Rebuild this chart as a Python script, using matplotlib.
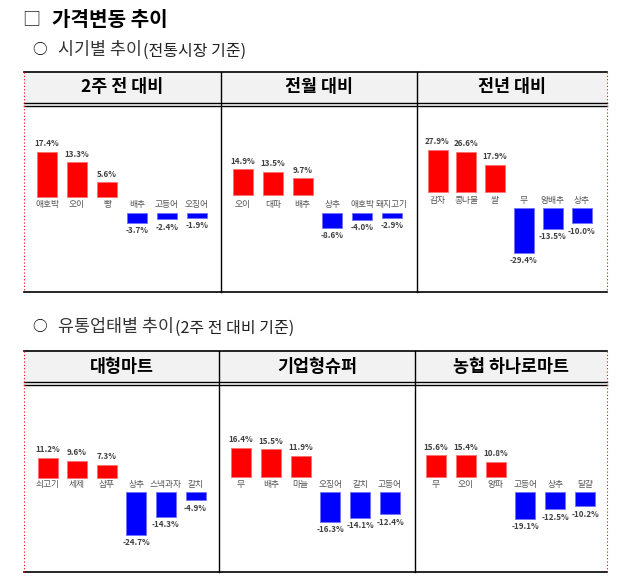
import matplotlib
matplotlib.use("Agg")
import matplotlib.pyplot as plt

plt.rcParams['font.family'] = ['Noto Sans CJK KR', 'DejaVu Sans']

W, H = 625, 582

# data (percent change)
titles_top = ['2주 전 대비', '전월 대비', '전년 대비']
titles_bottom = ['대형마트', '기업형슈퍼', '농협 하나로마트']

cats_2w = ['애호박', '오이', '빵', '배추', '고등어', '오징어']
vals_2w = [17.4, 13.3, 5.6, -3.7, -2.4, -1.9]
cats_month = ['오이', '대파', '배추', '상추', '애호박', '돼지고기']
vals_month = [14.9, 13.5, 9.7, -8.6, -4.0, -2.9]
cats_year = ['감자', '콩나물', '쌀', '무', '양배추', '상추']
vals_year = [27.9, 26.6, 17.9, -29.4, -13.5, -10.0]
cats_mart = ['쇠고기', '세제', '샴푸', '상추', '스낵과자', '갈치']
vals_mart = [11.2, 9.6, 7.3, -24.7, -14.3, -4.9]
cats_super = ['무', '배추', '마늘', '오징어', '갈치', '고등어']
vals_super = [16.4, 15.5, 11.9, -16.3, -14.1, -12.4]
cats_nh = ['무', '오이', '양파', '고등어', '상추', '달걀']
vals_nh = [15.6, 15.4, 10.8, -19.1, -12.5, -10.2]

# panel layout in pixels: x0, x1, y0, y1, mid line, half gap, px per %, first offset, spacing
panels = [
    (cats_2w, vals_2w, (24, 221, 106, 292, 205, 8, 2.6, 23, 30)),
    (cats_month, vals_month, (221, 417, 106, 292, 204, 9, 1.73, 22, 29.8)),
    (cats_year, vals_year, (417, 607, 106, 292, 200, 8, 1.52, 20.5, 28.8)),
    (cats_mart, vals_mart, (24, 219, 386, 572, 484.5, 7, 1.75, 23.5, 29.6)),
    (cats_super, vals_super, (219, 415, 386, 572, 484.7, 7.3, 1.81, 22, 29.8)),
    (cats_nh, vals_nh, (415, 607, 386, 572, 484.5, 7.2, 1.42, 21, 29.8)),
]

fig = plt.figure(figsize=(W / 100, H / 100), dpi=100)
bg = fig.add_axes([0, 0, 1, 1])
bg.set_xlim(0, W)
bg.set_ylim(H, 0)
bg.axis('off')
renderer = fig.canvas.get_renderer()


def subtitle(y, main, extra):
    bg.text(32, y, '○', fontsize=10.5, va='center', ha='left')
    t = bg.text(58, y, main, fontsize=12.5, va='center', ha='left', color='#333333')
    # put the bracket part right after the main text
    ext = t.get_window_extent(renderer)
    x_end = ext.x1  # pixels, same as data units here
    bg.text(x_end + 1, y + 1, extra, fontsize=11.5, va='center', ha='left', color='#222222')


# headings
bg.text(22, 19, '□', fontsize=13, va='center', ha='left', color='#222222')
bg.text(52, 19, '가격변동 추이', fontsize=14.5, fontweight='bold', va='center', ha='left')
subtitle(50, '시기별 추이', '(전통시장 기준)')
subtitle(327, '유통업태별 추이', '(2주 전 대비 기준)')


def draw_table(top, head_bot, bottom, xs, names):
    bg.fill_between([xs[0], xs[-1]], top, head_bot, color='#f2f2f2', lw=0)
    bg.plot([xs[0], xs[-1]], [top, top], color='black', lw=1.2)
    bg.plot([xs[0], xs[-1]], [head_bot, head_bot], color='black', lw=1.0)
    bg.plot([xs[0], xs[-1]], [head_bot + 3, head_bot + 3], color='black', lw=1.0)
    bg.plot([xs[0], xs[-1]], [bottom, bottom], color='black', lw=1.2)
    for x in xs[1:-1]:
        bg.plot([x, x], [top, bottom], color='black', lw=1.0)
    for x in (xs[0], xs[-1]):
        bg.plot([x, x], [top, bottom], color='red', lw=0.8, ls=(0, (1, 2)))
    for i, name in enumerate(names):
        bg.text((xs[i] + xs[i + 1]) / 2, (top + head_bot) / 2, name, fontsize=12.5,
                fontweight='bold', ha='center', va='center')


draw_table(72, 103, 292, [24, 221, 417, 607], titles_top)
draw_table(351, 382, 572, [24, 219, 415, 607], titles_bottom)

for cats, vals, (x0, x1, y0, y1, mid, hg, s, off, sp) in panels:
    ax = fig.add_axes([x0 / W, 1 - y1 / H, (x1 - x0) / W, (y1 - y0) / H])
    ax.patch.set_alpha(0)
    ax.axis('off')
    ax.set_xlim(-off / sp, (x1 - x0 - off) / sp)
    ax.set_ylim(-(y1 - mid) / s, (mid - y0) / s)
    g = hg / s
    xpos = list(range(len(vals)))
    bottoms = [g if v >= 0 else -g for v in vals]
    colors = ['#ff0000' if v >= 0 else '#0000ff' for v in vals]
    edges = ['#ff7070' if v >= 0 else '#7070ff' for v in vals]
    ax.bar(xpos, vals, bottom=bottoms, width=20 / sp, color=colors,
           edgecolor=edges, linewidth=0.6)
    for x, v, b in zip(xpos, vals, bottoms):
        if v >= 0:
            ax.annotate(f'{v:.1f}%', (x, b + v), xytext=(0, 2.5), textcoords='offset points',
                        ha='center', va='bottom', fontsize=5.8, fontweight='bold', color='#404040')
        else:
            ax.annotate(f'{v:.1f}%', (x, b + v), xytext=(0, -2.5), textcoords='offset points',
                        ha='center', va='top', fontsize=5.8, fontweight='bold', color='#404040')
    for x, c in zip(xpos, cats):
        ax.text(x, 0, c, ha='center', va='center', fontsize=6.3, color='#555555')

fig.savefig('out.png', dpi=100)
